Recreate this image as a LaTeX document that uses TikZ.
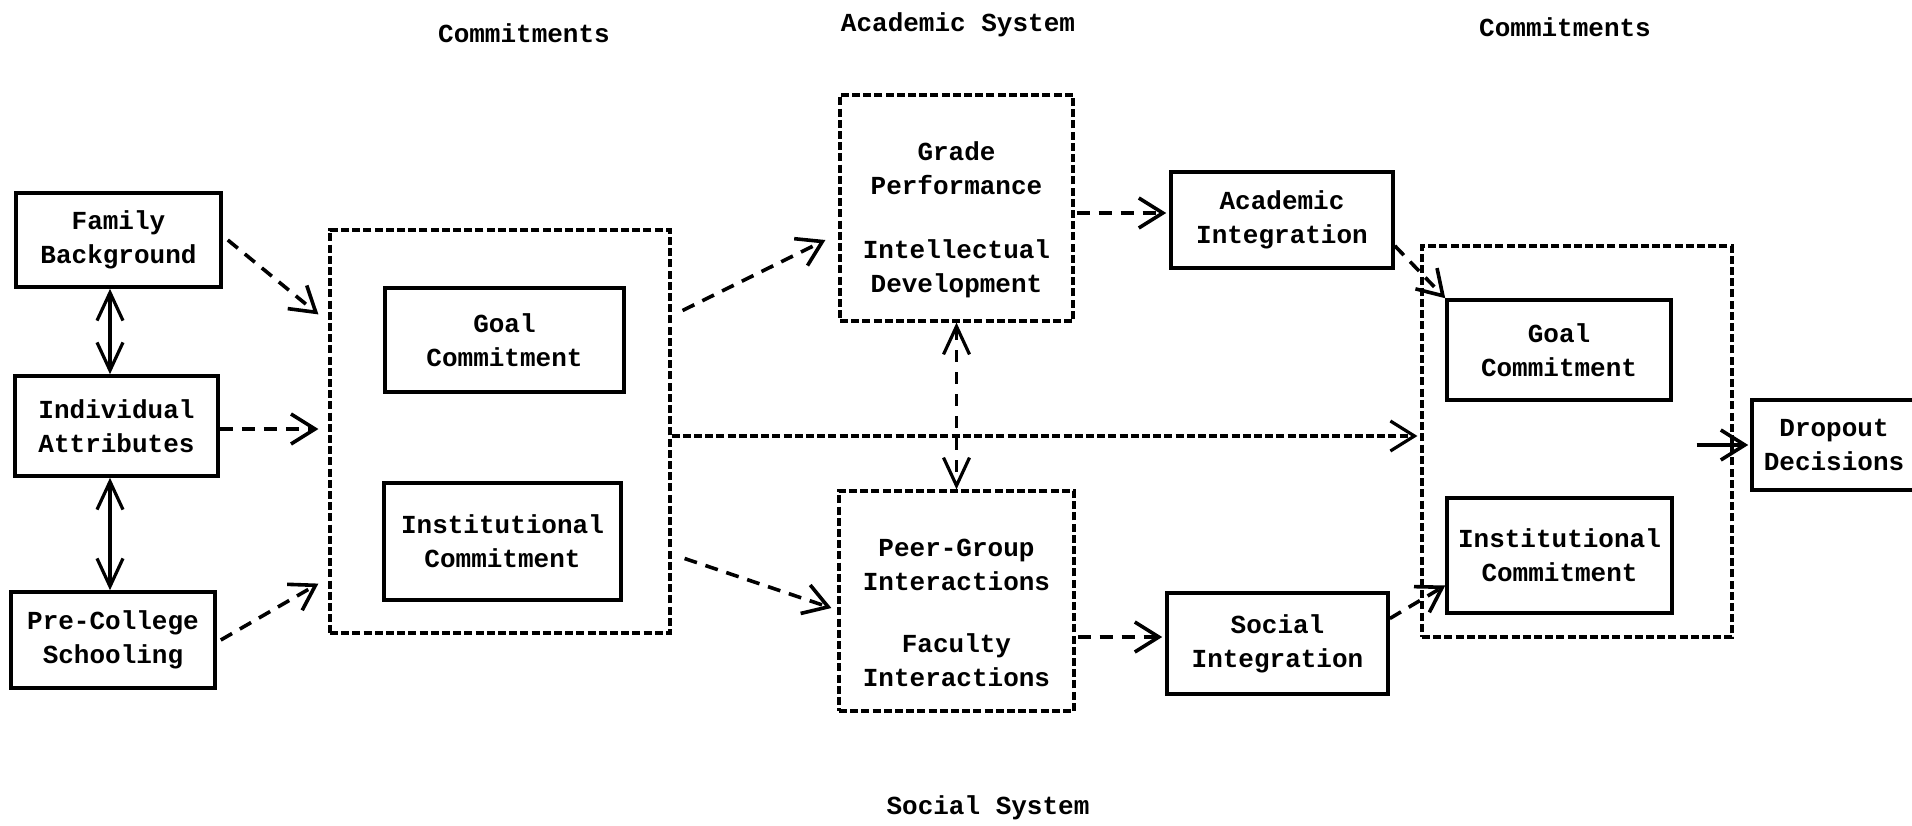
\documentclass[tikz,border=0pt]{standalone}
\usepackage{fontspec}
\setmainfont{Liberation Mono}
\usetikzlibrary{arrows.meta,calc}
\begin{document}
\begin{tikzpicture}[x=0.5pt,y=-0.5pt,
  txt/.style={align=center,inner sep=0pt,font=\fontsize{13}{17}\selectfont\bfseries},
  sz/.style 2 args={minimum width=#1*0.5pt,minimum height=#2*0.5pt},
  box/.style={txt,draw,line width=1.8pt},
  dbox/.style={draw,line width=1.6pt,dash pattern=on 4pt off 1.6pt,inner sep=0pt},
  tip/.style={-{Straight Barb[length=12pt,width=15pt]}},
  arr/.style={line width=1.8pt,dash pattern=on 6.5pt off 4.5pt,tip},
  dbl/.style={line width=1.6pt,{Straight Barb[length=14pt,width=13pt]}-{Straight Barb[length=14pt,width=13pt]}},
  dblD/.style={dbl,dash pattern=on 6pt off 5pt},
  hline/.style={line width=1.6pt,dash pattern=on 4pt off 1.6pt,tip},
  solidarr/.style={line width=1.8pt,tip}
]
\useasboundingbox[fill=white] (0,0) rectangle (1912,825);

% left column
\node[box,sz={205}{94}]  (fam) at (118.5,240) {Family\\Background};
\node[box,sz={203}{100}] (ind) at (116.5,426) {Individual\\Attributes};
\node[box,sz={204}{96}]  (pre) at (113,640)   {Pre-College\\Schooling};

% left commitments
\node[dbox,sz={340}{403}] (lbox) at (500,431.5) {};
\node[box,sz={239}{104}] (goalL) at (504.5,340) {Goal\\Commitment};
\node[box,sz={237}{117}] (instL) at (502.5,541.5) {Institutional\\Commitment};

% academic / social systems
\node[dbox,sz={233}{226}] (grade) at (956.5,208) {};
\node[txt] (gradetxt) at (956.5,220) {Grade\\Performance\\[15pt]Intellectual\\Development};
\node[dbox,sz={235}{220}] (peer) at (956.5,601) {};
\node[txt] (peertxt) at (956.5,613) {Peer-Group\\Interactions\\[14pt]Faculty\\Interactions};
\node[box,sz={222}{96}]  (acad) at (1282,220)   {Academic\\Integration};
\node[box,sz={221}{101}] (soc)  at (1277.5,643.5) {Social\\Integration};

% right commitments
\node[dbox,sz={310}{391}] (rbox) at (1577,441.5) {};
\node[box,sz={224}{100}] (goalR) at (1559,350)   {Goal\\Commitment};
\node[box,sz={225}{115}] (instR) at (1559.5,555.5) {Institutional\\Commitment};
\node[box,sz={164}{90}]  (drop)  at (1834,445)   {Dropout\\Decisions};

% headings
\node[txt] (h1) at (524,33)  {Commitments};
\node[txt] (h2) at (958,25)  {Academic System};
\node[txt] (h3) at (1565,27) {Commitments};
\node[txt] (h4) at (988,808) {Social System};

% connectors
\coordinate (vx) at (110,0);
\coordinate (hmid) at (0,436);
\draw[dbl] (fam.south -| vx) -- (ind.north -| vx);
\draw[dbl] (ind.south -| vx) -- (pre.north -| vx);
\draw[arr] ($(fam.east)+(5,0)$) -- ($(lbox.north west)+(-10,86)$);
\draw[arr] ($(ind.east)+(0,3)$) -- ($(ind.east -| lbox.west)+(-10,3)$);
\draw[arr] ($(pre.east)+(4,0)$) -- ($(lbox.south west)+(-10,-51)$);
\draw[arr] ($(lbox.east)+(11,-121)$) -- ($(grade.west)+(-13,32)$);
\draw[arr] ($(lbox.east)+(13,127)$) -- ($(peer.west)+(-6,7)$);
\draw[arr] ($(grade.east)+(2,5)$) -- ($(grade.east -| acad.west)+(-3,5)$);
\draw[arr] ($(peer.east)+(2,36)$) -- ($(peer.east -| soc.west)+(-3,36)$);
\draw[dblD] (grade.south) -- (peer.north);
\draw[hline] (lbox.east |- hmid) -- ($(rbox.west |- hmid)+(-3,0)$);
\draw[arr] ($(acad.south east)+(0,-24)$) -- (goalR.north west);
\draw[arr] ($(soc.east)+(0,-25)$) -- ($(instR.west)+(0,30)$);
\draw[solidarr] ($(rbox.east)+(-37,3.5)$) -- ($(drop.west)+(-2,0)$);
\end{tikzpicture}
\end{document}
